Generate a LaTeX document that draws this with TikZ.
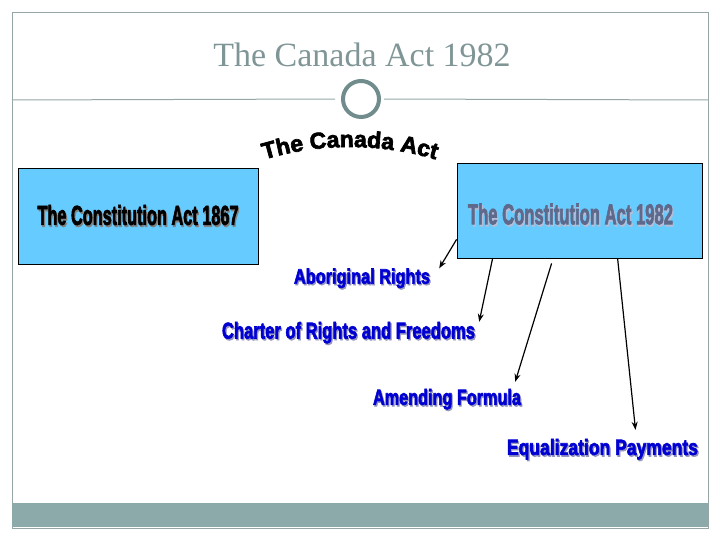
\documentclass[tikz,border=0pt]{standalone}
\usepackage{fontspec}
\usepackage{graphicx}
\setmainfont{Liberation Serif}
\newfontfamily\heavyfont{Liberation Sans}[FakeBold=3]
\usetikzlibrary{decorations.text, arrows.meta}

\definecolor{framegray}{RGB}{150,166,166}
\definecolor{bargray}{RGB}{141,170,170}
\definecolor{titlegray}{RGB}{128,150,150}
\definecolor{ringgray}{RGB}{112,140,140}
\definecolor{boxblue}{RGB}{102,204,255}
\definecolor{textblue}{RGB}{0,0,210}
\definecolor{blueshadow}{RGB}{150,150,190}
\definecolor{slate}{RGB}{95,105,140}
\definecolor{slateshadow}{RGB}{180,190,215}

% squeezed heavy text with a drop shadow: width, height, colour, shadow colour, text
\newcommand{\heavytext}[5]{\resizebox*{#1pt}{#2pt}{\heavyfont\bfseries\rlap{\kern0.07em\raisebox{-0.07em}{\color{#4}#5}}\color{#3}#5}}

\tikzset{
	actbox/.style={draw=black, fill=boxblue, line width=0.8pt, inner sep=0pt},
	item/.style={inner sep=0pt},
	pointer/.style={-{Stealth[length=8pt,width=6pt]}, line width=1.2pt},
}

\begin{document}
\begin{tikzpicture}[x=1pt,y=1pt]
	\useasboundingbox (0,0) rectangle (720,540);
	\draw[framegray, line width=0.8pt] (12,12) rectangle (708,528);
	\fill[bargray] (12,13) rectangle (708,37);

	\node[titlegray, anchor=base, font=\fontsize{34}{34}\selectfont] (title) at (362,473) {The Canada Act 1982};
	\node[circle, draw=ringgray, line width=4pt, minimum size=36pt, inner sep=0pt] (ring) at (361,441) {};
	\coordinate (ruleL) at (12,440);
	\coordinate (ruleR) at (708,440);
	\draw[framegray, line width=1pt, shorten >=6pt] (ruleL) -- (ring.west);
	\draw[framegray, line width=1pt, shorten >=3pt] (ruleR) -- (ring.east);

	\path[decorate, decoration={text along path, text align=center,
		text={|\heavyfont\bfseries\fontsize{23}{23}\selectfont|The Canada Act}}]
		(350,93) ++(115:300) arc (115:65:300);

	\node[actbox, minimum width=240pt, minimum height=96pt] (old) at (138,324) {\heavytext{201}{22}{black}{gray}{The Constitution Act 1867}};
	\node[actbox, minimum width=245pt, minimum height=95pt] (new) at (579.5,329.5) {};
	\node[item] (newtext) at ([shift={(-9,-4.5)}]new.center) {\heavytext{205}{23}{slate}{slateshadow}{The Constitution Act 1982}};

	\node[item] (ab) at (362,261) {\heavytext{136}{21}{textblue}{blueshadow}{Aboriginal Rights}};
	\node[item] (ch) at (348.5,206.5) {\heavytext{253}{23}{textblue}{blueshadow}{Charter of Rights and Freedoms}};
	\node[item] (am) at (447,140) {\heavytext{148}{22}{textblue}{blueshadow}{Amending Formula}};
	\node[item] (eq) at (602.5,90) {\heavytext{191}{22}{textblue}{blueshadow}{Equalization Payments}};

	\draw[pointer] ([shift={(0,19)}]new.south west) -- ([shift={(9,0)}]ab.north east);
	\draw[pointer] ([shift={(36,0)}]new.south west) -- ([shift={(4,0)}]ch.north east);
	\draw[pointer] ([shift={(95,-5)}]new.south west) -- ([shift={(-6,7)}]am.north east);
	\draw[pointer] ([shift={(161,0)}]new.south west) -- ([shift={(33,9)}]eq.north);
\end{tikzpicture}
\end{document}
